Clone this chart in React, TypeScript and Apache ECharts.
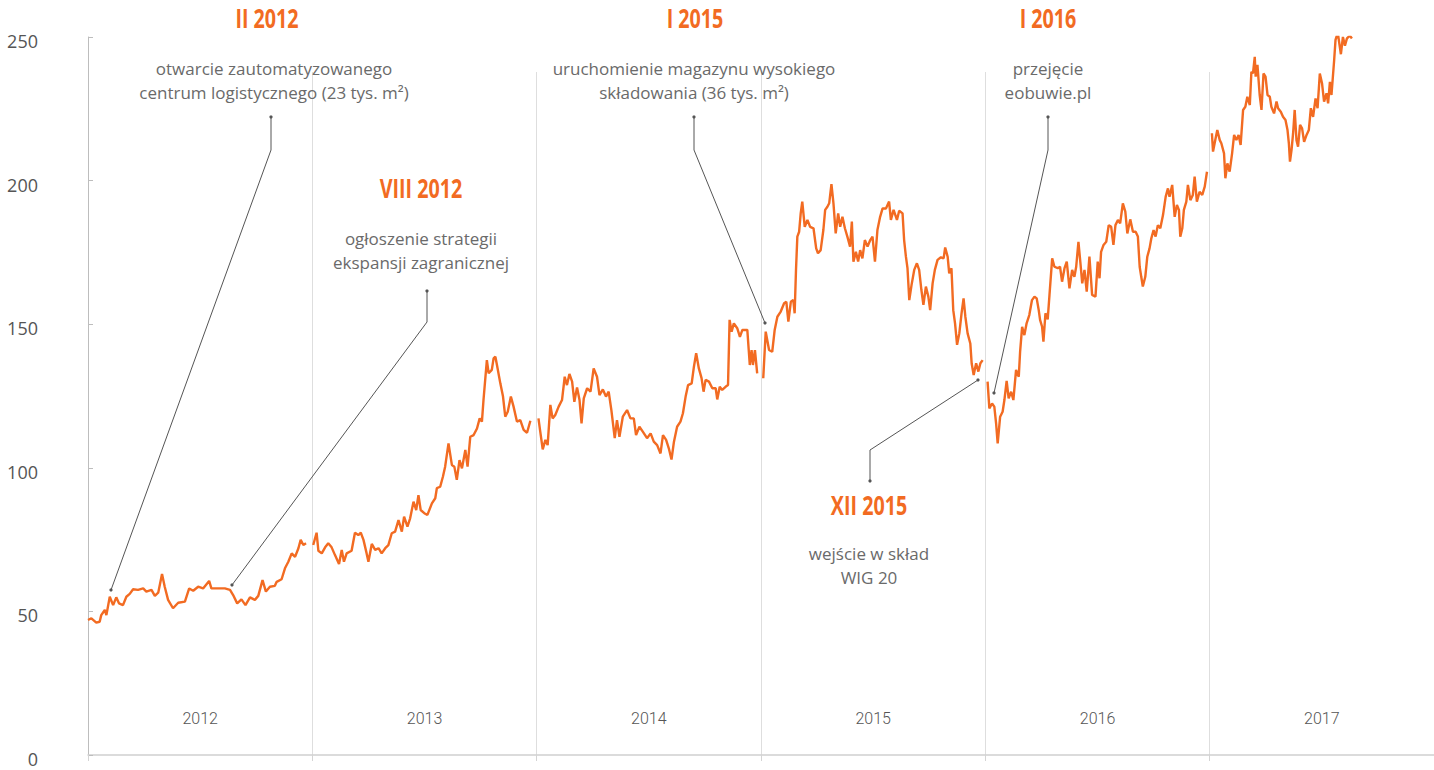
import React, { useEffect, useRef } from "react";
import * as echarts from "echarts";

// Year labels shown under the chart
const YEARS = ["2012", "2013", "2014", "2015", "2016", "2017"];
const Y_MIN = 0;
const Y_MAX = 250;
const Y_STEP = 50;

// Closing prices (PLN). F = position within the year (fraction), P = price
const F2012 = [0, .015, .037, .052, .059, .075, .082, .097, .112, .126, .138, .156, .171, .186, .201, .223, .246, .260, .283, .298, .313, .330, .342, .357, .379, .402, .432, .451, .469, .491, .513, .540, .550, .573, .610, .633, .647, .665, .684, .702, .722, .744, .759, .778, .793, .811, .833, .841, .863, .878, .893, .908, .923, .938, .948, .960, .972];
const P2012 = [47.0, 47.6, 46.1, 46.4, 48.7, 50.5, 48.7, 55.1, 52.2, 54.9, 52.8, 52.2, 55.1, 56.1, 57.7, 57.5, 58.0, 56.9, 57.5, 55.4, 56.5, 63.0, 58.6, 54.0, 51.1, 53.0, 53.4, 58.0, 57.2, 58.6, 58.0, 60.6, 58.0, 58.0, 58.0, 57.5, 55.7, 52.8, 54.2, 52.2, 54.9, 54.0, 55.4, 60.9, 56.9, 58.6, 58.9, 60.3, 61.2, 65.0, 67.3, 70.2, 69.0, 72.0, 74.9, 73.1, 73.7];

const F2013 = [.004, .019, .027, .042, .057, .071, .086, .101, .119, .131, .141, .153, .175, .190, .205, .216, .228, .242, .250, .265, .280, .295, .309, .325, .339, .354, .369, .384, .399, .409, .424, .436, .451, .463, .473, .483, .499, .513, .533, .548, .555, .570, .582, .592, .607, .622, .633, .644, .656, .667, .682, .692, .704, .719, .734, .746, .756, .763, .778, .786, .800, .808, .816, .823, .838, .850, .860, .871, .885, .897, .912, .927, .942, .957, .972];
const P2013 = [73.1, 77.4, 71.1, 70.2, 72.3, 73.7, 72.3, 69.6, 66.5, 71.4, 67.3, 70.2, 71.1, 77.4, 76.6, 77.4, 74.9, 70.2, 67.3, 73.5, 71.4, 72.0, 70.2, 72.0, 73.1, 77.2, 77.8, 81.8, 77.8, 83.0, 79.5, 82.4, 88.2, 85.3, 90.5, 85.3, 84.2, 83.6, 87.6, 89.4, 92.9, 93.4, 96.9, 100.4, 108.5, 101.0, 100.4, 95.8, 102.7, 99.8, 106.2, 100.4, 110.8, 111.4, 113.7, 117.2, 116.1, 123.6, 137.5, 132.9, 134.1, 138.1, 138.7, 135.8, 129.4, 124.8, 117.8, 119.5, 124.8, 121.3, 116.1, 116.6, 113.2, 112.2, 116.4];

const F2014 = [.008, .016, .027, .039, .049, .061, .071, .083, .098, .113, .125, .135, .146, .158, .168, .180, .191, .200, .210, .225, .240, .254, .269, .280, .295, .309, .321, .333, .348, .358, .369, .384, .403, .418, .433, .443, .458, .473, .492, .508, .522, .537, .552, .563, .577, .589, .601, .612, .626, .641, .652, .664, .675, .691, .701, .711, .723, .735, .744, .753, .768, .783, .798, .805, .816, .827, .842, .853, .860, .869, .879, .894, .906, .917, .939, .950, .958, .964, .973, .983];
const P2014 = [117.2, 112.6, 106.4, 109.7, 107.9, 121.9, 117.2, 118.4, 121.3, 123.6, 131.7, 128.8, 132.7, 130.0, 123.0, 128.0, 123.6, 115.5, 124.2, 127.7, 126.5, 134.6, 131.7, 125.3, 127.3, 124.8, 126.5, 120.1, 110.3, 116.6, 110.8, 117.8, 120.1, 117.2, 117.2, 111.4, 114.3, 112.6, 110.3, 112.0, 109.1, 107.9, 105.0, 111.4, 109.7, 106.8, 102.9, 109.1, 114.3, 116.1, 119.0, 124.8, 128.8, 129.4, 135.2, 139.9, 134.6, 131.2, 126.5, 130.6, 130.0, 127.7, 127.7, 123.8, 128.2, 127.1, 128.2, 128.8, 151.5, 147.4, 150.3, 148.6, 145.6, 148.0, 148.0, 135.8, 141.0, 135.8, 141.0, 132.9];

const F2015 = [.010, .021, .036, .050, .061, .073, .088, .103, .113, .122, .133, .144, .150, .156, .162, .170, .177, .184, .195, .207, .219, .234, .246, .254, .266, .278, .286, .296, .304, .314, .323, .333, .344, .353, .363, .374, .385, .397, .405, .412, .423, .433, .442, .452, .463, .475, .487, .497, .508, .519, .531, .542, .557, .571, .579, .591, .606, .616, .631, .638, .646, .653, .661, .671, .683, .695, .705, .715, .724, .735, .746, .754, .765, .775, .787, .802, .814, .821, .832, .839, .849, .857, .865, .874, .884, .894, .903, .911, .921, .933, .939, .948, .959, .969, .978, .988];
const P2015 = [131.2, 147.4, 141.0, 140.4, 148.0, 152.6, 154.4, 157.3, 157.8, 150.9, 157.8, 158.4, 153.8, 168.9, 180.5, 182.2, 188.6, 192.7, 183.9, 186.3, 183.9, 183.4, 176.4, 174.7, 175.8, 182.8, 189.8, 190.9, 192.1, 198.8, 192.1, 181.6, 188.6, 183.9, 187.4, 183.4, 180.5, 177.0, 185.7, 171.8, 175.2, 171.8, 175.8, 172.9, 179.3, 177.0, 179.3, 180.5, 171.8, 182.8, 187.4, 190.3, 190.3, 192.7, 186.3, 189.8, 186.3, 189.5, 188.6, 179.3, 173.5, 169.5, 158.4, 163.6, 168.9, 171.2, 168.9, 161.9, 156.7, 163.1, 159.6, 154.9, 164.2, 168.9, 172.4, 173.3, 172.9, 176.7, 173.5, 167.7, 169.5, 154.9, 150.3, 142.8, 146.8, 153.8, 159.0, 152.6, 146.8, 143.3, 136.4, 132.3, 136.4, 133.5, 136.4, 137.5];

const F2016 = [.010, .018, .030, .040, .048, .055, .066, .077, .085, .095, .104, .115, .125, .137, .149, .155, .164, .174, .184, .196, .208, .219, .229, .238, .244, .253, .259, .268, .278, .286, .298, .308, .323, .333, .342, .353, .363, .375, .387, .397, .405, .415, .424, .432, .442, .452, .464, .476, .491, .501, .509, .516, .527, .539, .550, .561, .571, .580, .591, .601, .613, .624, .633, .646, .658, .670, .680, .688, .695, .702, .713, .722, .732, .740, .750, .759, .769, .780, .792, .804, .814, .821, .833, .844, .854, .863, .869, .878, .885, .896, .903, .914, .925, .933, .943, .955, .967, .978, .988];
const P2016 = [130.0, 120.7, 122.4, 121.3, 115.5, 108.5, 117.8, 119.5, 123.6, 130.3, 124.2, 126.5, 123.6, 134.1, 131.7, 140.4, 149.1, 146.2, 150.3, 153.2, 158.4, 159.6, 159.0, 154.9, 151.5, 149.1, 143.9, 153.8, 151.7, 160.2, 172.9, 170.0, 169.5, 170.0, 164.8, 169.5, 171.8, 162.5, 168.9, 166.5, 170.0, 178.7, 171.2, 164.2, 168.9, 161.3, 173.5, 160.2, 159.6, 171.8, 166.0, 175.2, 177.6, 178.7, 184.5, 183.9, 177.6, 184.5, 186.3, 185.1, 192.1, 189.2, 181.6, 186.5, 182.2, 182.2, 180.5, 170.0, 166.5, 163.1, 166.5, 173.5, 176.4, 179.9, 182.8, 180.5, 184.5, 183.4, 188.0, 194.4, 197.3, 194.4, 198.5, 187.4, 191.5, 189.8, 180.5, 183.4, 189.8, 192.7, 198.5, 193.2, 195.0, 201.4, 192.7, 196.1, 195.0, 197.9, 203.1];

const F2017 = [.010, .015, .025, .034, .045, .052, .064, .070, .079, .089, .100, .109, .119, .129, .138, .149, .159, .168, .179, .186, .193, .201, .205, .213, .223, .231, .240, .249, .258, .268, .275, .287, .298, .305, .317, .327, .338, .347, .353, .358, .365, .372, .379, .387, .394, .403, .412, .421, .432, .442, .451, .461, .472, .481, .491, .501, .510, .521, .528, .536, .543, .555, .561, .571, .585, .594, .603, .612, .625, .634];
const P2017 = [216.5, 210.1, 214.1, 217.6, 214.1, 213.0, 209.5, 200.8, 206.0, 203.1, 209.5, 215.9, 214.1, 215.9, 212.4, 224.6, 225.7, 229.2, 226.3, 237.9, 237.3, 243.1, 236.2, 240.3, 229.8, 224.6, 237.3, 236.2, 229.8, 229.2, 225.7, 223.4, 227.5, 225.2, 224.0, 222.2, 221.1, 217.6, 213.0, 206.6, 210.7, 216.5, 224.6, 214.1, 211.8, 219.4, 218.2, 213.5, 215.9, 217.6, 225.2, 222.2, 228.6, 225.2, 237.3, 233.8, 227.5, 230.4, 226.9, 234.4, 229.8, 242.0, 249.0, 251.5, 244.0, 250.0, 247.0, 249.5, 250.5, 249.5];

const YEAR_DATA: [number, number[], number[]][] = [
  [2012, F2012, P2012],
  [2013, F2013, P2013],
  [2014, F2014, P2014],
  [2015, F2015, P2015],
  [2016, F2016, P2016],
  [2017, F2017, P2017],
];

const ORANGE = "#F26B22";
const GRAY_TEXT = "#6a6a6a";
const TITLE_FONT = 'bold 27px "Open Sans", "Roboto", sans-serif';
const BODY_FONT = '17px "Open Sans", "Lato", sans-serif';

type Note = { title: string; tx: number; ty: number; lines: string[]; lx: number; ly: number; path: number[][] };
const NOTES: Note[] = [
  { title: "II 2012", tx: 267, ty: 18, lines: ["otwarcie zautomatyzowanego", "centrum logistycznego (23 tys. m²)"], lx: 274, ly: 68, path: [[271, 117], [271, 150], [111, 590]] },
  { title: "VIII 2012", tx: 421, ty: 188, lines: ["ogłoszenie strategii", "ekspansji zagranicznej"], lx: 421, ly: 238, path: [[427, 291], [427, 322], [232, 585]] },
  { title: "I 2015", tx: 695, ty: 18, lines: ["uruchomienie magazynu wysokiego", "składowania (36 tys. m²)"], lx: 694, ly: 68, path: [[694, 117], [694, 150], [765, 323]] },
  { title: "I 2016", tx: 1048, ty: 18, lines: ["przejęcie", "eobuwie.pl"], lx: 1048, ly: 68, path: [[1048, 117], [1048, 150], [994, 393]] },
  { title: "XII 2015", tx: 869, ty: 505, lines: ["wejście w skład", "WIG 20"], lx: 869, ly: 553, path: [[870, 481], [870, 450], [978, 380]] },
];

function buildGraphic() {
  const els: any[] = [];
  NOTES.forEach((n) => {
    els.push({
      type: "polyline",
      shape: { points: n.path },
      style: { stroke: "#555", lineWidth: 1, fill: null },
      z: 10,
    });
    const a = n.path[0];
    const b = n.path[n.path.length - 1];
    els.push({ type: "circle", shape: { cx: a[0], cy: a[1], r: 1.6 }, style: { fill: "#555" }, z: 10 });
    els.push({ type: "circle", shape: { cx: b[0], cy: b[1], r: 1.6 }, style: { fill: "#555" }, z: 10 });
    els.push({
      type: "text",
      x: n.tx,
      y: n.ty,
      scaleX: 0.73,
      style: { text: n.title, fill: ORANGE, font: TITLE_FONT, align: "center", verticalAlign: "middle" },
      z: 10,
    });
    n.lines.forEach((line, i) => {
      els.push({
        type: "text",
        x: n.lx,
        y: n.ly + i * 24,
        style: { text: line, fill: GRAY_TEXT, font: BODY_FONT, align: "center", verticalAlign: "middle" },
        z: 10,
      });
    });
  });
  return els;
}

export default function App() {
  const ref = useRef<HTMLDivElement>(null);
  useEffect(() => {
    if (!ref.current) return;
    const chart = echarts.init(ref.current, undefined, { renderer: "svg" });
    const series = YEAR_DATA.map(([yr, f, p]) => ({
      type: "line",
      xAxisIndex: 0,
      yAxisIndex: 0,
      showSymbol: false,
      symbol: "none",
      lineStyle: { color: ORANGE, width: 2.4 },
      itemStyle: { color: ORANGE },
      z: 5,
      data: f.map((fr, i) => [yr + fr, p[i]]),
    }));
    chart.setOption({
      animation: false,
      backgroundColor: "#ffffff",
      grid: [
        { left: 88, top: 37, width: 1346, height: 718 },
        { left: 88, top: 72, width: 1346, height: 683 },
      ],
      xAxis: [
        { type: "value", gridIndex: 0, min: 2012, max: 2018, show: false },
        {
          type: "category",
          gridIndex: 1,
          data: YEARS,
          boundaryGap: true,
          axisLine: { show: true, lineStyle: { color: "#cfcfcf", width: 1.5 } },
          axisTick: { show: true, length: 6, lineStyle: { color: "#d4d4d4" } },
          splitLine: { show: true, lineStyle: { color: "#dedede", width: 1 } },
          axisLabel: {
            inside: true,
            margin: 29,
            color: "#555",
            fontSize: 16,
            fontFamily: '"Roboto", "Open Sans", sans-serif',
            fontWeight: 300,
          },
        },
      ],
      yAxis: [
        {
          type: "value",
          gridIndex: 0,
          min: Y_MIN,
          max: Y_MAX,
          interval: Y_STEP,
          axisLine: { show: true, lineStyle: { color: "#bdbdbd", width: 1 } },
          axisTick: { show: true, inside: true, length: 5, lineStyle: { color: "#bdbdbd" } },
          splitLine: { show: false },
          axisLabel: {
            margin: 50,
            align: "right",
            formatter: "{v|{value}}",
            rich: {
              v: {
                color: "#555",
                fontSize: 18,
                padding: [8, 0, 0, 0],
                fontFamily: '"Open Sans", "Lato", sans-serif',
              },
            },
          },
        },
        { type: "value", gridIndex: 1, show: false, min: 0, max: 1 },
      ],
      series,
      graphic: buildGraphic(),
    });
    return () => chart.dispose();
  }, []);
  return (
    <div
      ref={ref}
      style={{ position: "absolute", left: 0, top: 0, width: 1434, height: 770, background: "#fff" }}
    />
  );
}
